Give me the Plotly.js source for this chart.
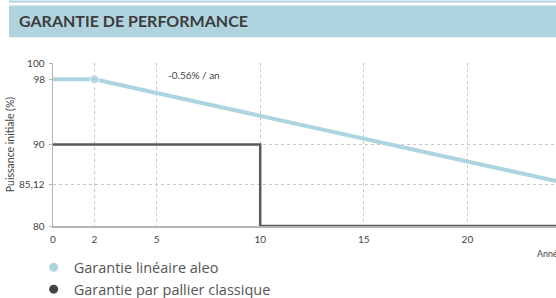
<!DOCTYPE html>
<html><head><meta charset="utf-8">
<script src="https://cdn.plot.ly/plotly-3.0.1.min.js"></script>
<style>html,body{margin:0;padding:0;overflow:hidden;background:#fff;width:556px;height:298px}</style>
</head><body><div id="chart"></div>
<script>
// Data
const lineYears = [0, 2, 25];
const lineValues = [98, 98, 85.12];
const stepYears = [0, 10, 10, 25];
const stepValues = [90, 90, 80, 80];
const xTickVals = [0, 2, 5, 10, 15, 20];
const xTickText = ['0', '2', '5', '10', '15', '20'];
const yGridVals = [80, 85.12, 90, 100];
const yGridText = ['80', '85,12', '90', '100'];
const yExtraVals = [98];
const yExtraText = ['98'];
const seriesNames = ['Garantie linéaire aleo', 'Garantie par pallier classique'];
const titleText = 'GARANTIE DE PERFORMANCE';
const slopeText = '-0.56% / an';
const xTitleText = 'Années';

const blue = '#acd5df';
const dark = '#5a5a5a';
const W = 600, H = 298;
const mL = 53.3, mR = 29.2, mT = 63.3, mB = 72.3;
const ph = H - mT - mB, pw = W - mL - mR;
const py = px => (H - mB - px) / ph;   // pixel y -> paper
const pxx = px => (px - mL) / pw;      // pixel x -> paper
const font = 'Lato, "Open Sans", sans-serif';

const traces = [
  {x: lineYears, y: lineValues, mode: 'lines+markers', showlegend: false,
   line: {color: blue, width: 4}, marker: {color: blue, size: [0, 9, 9]}, hoverinfo: 'skip'},
  {x: stepYears, y: stepValues, mode: 'lines', showlegend: false,
   line: {color: dark, width: 2.5}, hoverinfo: 'skip'},
  {x: [null], y: [null], yaxis: 'y2', mode: 'markers', name: seriesNames[0],
   marker: {color: blue, size: 9}},
  {x: [null], y: [null], yaxis: 'y2', mode: 'markers', name: seriesNames[1],
   marker: {color: '#444', size: 9}}
];

const layout = {
  width: W, height: H,
  margin: {l: mL, r: mR, t: mT, b: mB, pad: 0, autoexpand: false},
  paper_bgcolor: '#fff', plot_bgcolor: '#fff',
  font: {family: font, color: '#444', size: 10},
  title: {text: '<b>' + titleText + '</b>', font: {family: font, size: 16, color: '#3d3d3d'},
    xref: 'container', yref: 'container', x: 19/W, xanchor: 'left', y: 1 - 21/H, yanchor: 'middle'},
  xaxis: {range: [0, 25], tickvals: xTickVals, ticktext: xTickText, showgrid: true,
    gridcolor: '#c8c8c8', griddash: '3px,3px', gridwidth: 1, zeroline: false,
    showline: true, linecolor: '#b5b5b5', linewidth: 1.5, ticks: '', ticklabelstandoff: 3,
    tickfont: {size: 10, color: '#444'}, fixedrange: true, automargin: false},
  yaxis: {range: [80, 100], tickvals: yGridVals, ticktext: yGridText, showgrid: true,
    gridcolor: '#c8c8c8', griddash: '3px,3px', gridwidth: 1, zeroline: false,
    showline: true, linecolor: '#b5b5b5', linewidth: 1.5, ticks: 'outside', ticklen: 3,
    tickcolor: '#b5b5b5', tickfont: {size: 10, color: '#444'}, ticklabelstandoff: 2,
    title: {text: 'Puissance initiale (%)', font: {size: 10.5, color: '#444'}, standoff: 2},
    fixedrange: true, automargin: false},
  yaxis2: {range: [80, 100], overlaying: 'y', side: 'left', tickvals: yExtraVals, ticktext: yExtraText,
    showgrid: false, zeroline: false, showline: false, ticks: 'outside', ticklen: 3,
    tickcolor: '#b5b5b5', tickfont: {size: 10, color: '#444'}, ticklabelstandoff: 2,
    fixedrange: true, automargin: false},
  legend: {x: pxx(34), xanchor: 'left', y: py(251), yanchor: 'top', orientation: 'v',
    traceorder: 'normal', font: {family: '"Open Sans", sans-serif', size: 14.5, color: '#555'},
    bgcolor: 'rgba(0,0,0,0)'},
  annotations: [
    {text: slopeText, xref: 'paper', yref: 'paper', x: pxx(166), y: py(75), xanchor: 'left',
     yanchor: 'middle', showarrow: false, font: {size: 10, color: '#444'}},
    {text: xTitleText, xref: 'paper', yref: 'paper', x: pxx(535), y: py(253), xanchor: 'left',
     yanchor: 'middle', showarrow: false, font: {size: 9, color: '#444'}}
  ],
  shapes: [
    {type: 'rect', xref: 'paper', yref: 'paper', x0: pxx(9.3), x1: pxx(620), y0: py(37.7), y1: py(6),
     fillcolor: '#afd4df', line: {width: 0}, layer: 'below'},
    {type: 'rect', xref: 'paper', yref: 'paper', x0: pxx(9.3), x1: pxx(620), y0: py(3), y1: py(1),
     fillcolor: '#afd4df', line: {width: 0}, layer: 'below'}
  ]
};

Plotly.newPlot('chart', traces, layout, {staticPlot: true, displayModeBar: false});
</script></body></html>
